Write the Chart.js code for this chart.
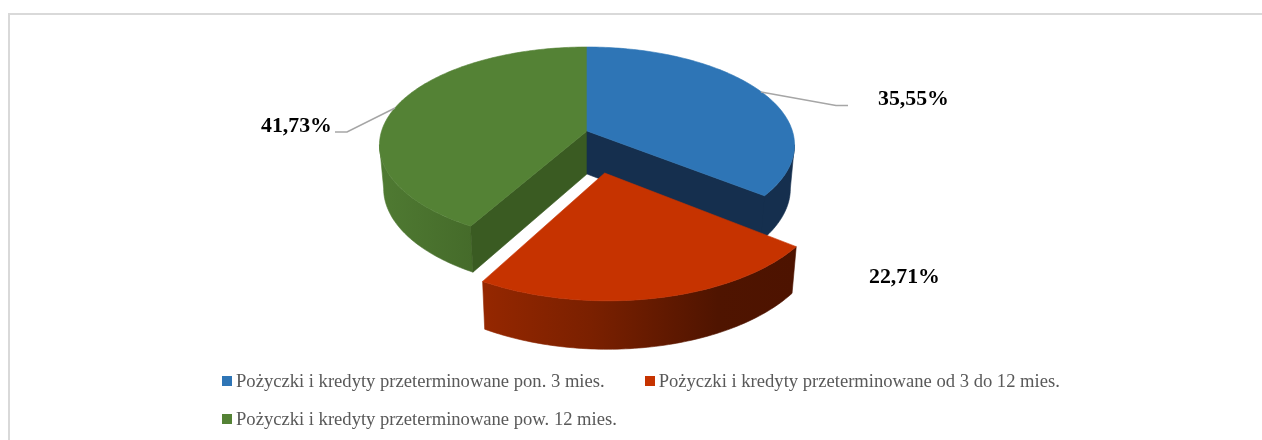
<html>

<head>
  <meta charset="utf-8">
  <title>Pożyczki i kredyty przeterminowane</title>
  <style>
    html,
    body {
      padding: 0;
      margin: 0;
      width: 1262px;
      height: 440px;
      overflow: hidden;
      background: #fff;
    }

    #frame {
      position: absolute;
      left: 8px;
      top: 13px;
      width: 1254px;
      height: 427px;
      border-left: 2px solid #d9d9d9;
      border-top: 2px solid #d9d9d9;
      box-sizing: border-box;
    }

    #chart {
      position: absolute;
      left: 0;
      top: 0;
    }

    #legend {
      position: absolute;
      left: 222px;
      top: 362px;
      width: 860px;
      display: flex;
      flex-wrap: wrap;
      column-gap: 40px;
      font: 18.6px "Liberation Serif";
      color: #595959;
    }

    #legend div {
      height: 38px;
      line-height: 38px;
      white-space: nowrap;
      display: flex;
      align-items: center;
    }

    #legend i {
      display: block;
      width: 10px;
      height: 10px;
      margin-right: 4px;
    }
  </style>
  <script src="https://cdn.jsdelivr.net/npm/chart.js@4/dist/chart.umd.min.js"></script>
</head>

<body>
  <div id="frame"></div>
  <canvas id="chart" width="1262" height="440"></canvas>
  <div id="legend"></div>

  <script>
    const categories = [
      'Pożyczki i kredyty przeterminowane pon. 3 mies.',
      'Pożyczki i kredyty przeterminowane od 3 do 12 mies.',
      'Pożyczki i kredyty przeterminowane pow. 12 mies.'
    ];
    const values = [35.55, 22.71, 41.73];
    const valueLabels = ['35,55%', '22,71%', '41,73%'];

    const topColors = ['#2e75b6', '#c63300', '#548235'];

    // tilted disc: the apex sits above the middle of the ellipse, near edge is bigger
    const disc = { cx: 587, cy: 131, rx: 205.4, ry: 96, persp: 1 / 7 };
    const depth = { drop: 43, sx: 0.98, sy: 1.032 };
    const explode = [0, 0.42, 0];

    // where the side walls of each slice can be seen, degrees from the top
    // blue runs a bit past its cut so no seam shows, the red slice hides the tip
    const wallRange = [[98, 129.5], [null, null], [null, 262]];
    const wallStops = [
      [[0, '#152f4e'], [1, '#152f4e']],
      [[0, '#952700'], [0.35, '#7a2000'], [0.75, '#4f1400'], [1, '#4d1300']],
      [[0, '#4f7a32'], [1, '#456b2a']]
    ];
    const cutFaces = ['#152f4e', null, '#3a5b22'];

    const labelBoxes = [
      { x: 878, y: 99, line: [[761, 92], [836, 105.5], [848, 105.5]] },
      { x: 869, y: 277, line: null },
      { x: 261, y: 126, line: [[395, 108], [347, 132], [335, 132]] }
    ];

    function project(deg, k, off) {
      const a = deg * Math.PI / 180;
      const x = k * Math.sin(a) + off.x;
      const y = -k * Math.cos(a) + off.y;
      const w = 1 - disc.persp * y;
      return [disc.rx * x / w, disc.ry * y / w];
    }

    function topPoint(p) {
      return [disc.cx + p[0], disc.cy + p[1]];
    }

    function bottomPoint(p) {
      return [disc.cx + p[0] * depth.sx, disc.cy + depth.drop + p[1] * depth.sy];
    }

    function trace(ctx, pts, color) {
      ctx.beginPath();
      pts.forEach(function (p, i) {
        if (i === 0) ctx.moveTo(p[0], p[1]);
        else ctx.lineTo(p[0], p[1]);
      });
      ctx.closePath();
      ctx.fillStyle = color;
      ctx.strokeStyle = color;
      ctx.lineWidth = 0.6;
      ctx.fill();
      ctx.stroke();
    }

    function arcPoints(from, to, off, fn) {
      const pts = [];
      const n = Math.max(2, Math.ceil(Math.abs(to - from)));
      for (let i = 0; i <= n; i++) {
        pts.push(fn(project(from + (to - from) * i / n, 1, off)));
      }
      return pts;
    }

    const pie3d = {
      id: 'pie3d',
      beforeDatasetDraw(chart, args) {
        const ctx = chart.ctx;
        const arcs = chart.getDatasetMeta(args.index).data;
        ctx.save();
        // back slices first, the exploded one goes on top
        [2, 0, 1].forEach(function (i) {
          const from = arcs[i].startAngle * 180 / Math.PI + 90;
          const to = arcs[i].endAngle * 180 / Math.PI + 90;
          const mid = (from + to) / 2 * Math.PI / 180;
          const off = { x: explode[i] * Math.sin(mid), y: -explode[i] * Math.cos(mid) };
          const wallFrom = wallRange[i][0] === null ? from : wallRange[i][0];
          const wallTo = wallRange[i][1] === null ? to : wallRange[i][1];

          // outer wall
          const walls = arcPoints(wallFrom, wallTo, off, topPoint)
            .concat(arcPoints(wallFrom, wallTo, off, bottomPoint).reverse());
          const xs = walls.map(function (p) { return p[0]; });
          const grad = ctx.createLinearGradient(Math.min.apply(null, xs), 0, Math.max.apply(null, xs), 0);
          wallStops[i].forEach(function (s) { grad.addColorStop(s[0], s[1]); });
          trace(ctx, walls, grad);

          // cut face that looks at the viewer
          if (cutFaces[i]) {
            const edge = i === 0 ? to : from;
            const apex = project(0, 0, off);
            const rim = project(edge, 1, off);
            trace(ctx, [topPoint(apex), bottomPoint(apex), bottomPoint(rim), topPoint(rim)], cutFaces[i]);
          }

          // top of the slice
          const top = [topPoint(project(0, 0, off))].concat(arcPoints(from, to, off, topPoint));
          trace(ctx, top, topColors[i]);
        });
        ctx.restore();
        return false;
      },
      afterDatasetsDraw(chart) {
        const ctx = chart.ctx;
        ctx.save();
        labelBoxes.forEach(function (box, i) {
          if (box.line) {
            ctx.beginPath();
            box.line.forEach(function (p, j) {
              if (j === 0) ctx.moveTo(p[0], p[1]);
              else ctx.lineTo(p[0], p[1]);
            });
            ctx.strokeStyle = '#a6a6a6';
            ctx.lineWidth = 1.5;
            ctx.stroke();
          }
          ctx.font = 'bold 21.8px "Liberation Serif"';
          ctx.fillStyle = '#000';
          ctx.textAlign = 'left';
          ctx.textBaseline = 'middle';
          ctx.fillText(valueLabels[i], box.x, box.y);
        });
        ctx.restore();
      }
    };

    const chart = new Chart(document.getElementById('chart').getContext('2d'), {
      type: 'pie',
      data: {
        labels: categories,
        datasets: [{ data: values, backgroundColor: topColors, borderWidth: 0 }]
      },
      options: {
        responsive: false,
        animation: false,
        plugins: {
          legend: { display: false },
          tooltip: { enabled: false }
        }
      },
      plugins: [pie3d]
    });

    // legend needs wider gaps between items than between rows, so it is plain html
    const legendEl = document.getElementById('legend');
    chart.data.labels.forEach(function (label, i) {
      const item = document.createElement('div');
      const box = document.createElement('i');
      box.style.background = chart.data.datasets[0].backgroundColor[i];
      item.appendChild(box);
      item.appendChild(document.createTextNode(label));
      legendEl.appendChild(item);
    });
  </script>
</body>

</html>
